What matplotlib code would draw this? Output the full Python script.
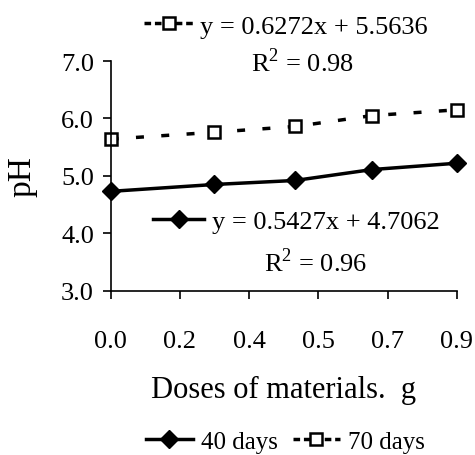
import matplotlib
matplotlib.use('Agg')
import matplotlib.pyplot as plt
from matplotlib.lines import Line2D

# 数据
doses = [0.0, 0.27, 0.48, 0.68, 0.9]
ph_40 = [4.73, 4.85, 4.92, 5.11, 5.22]
ph_70 = [5.64, 5.76, 5.86, 6.05, 6.15]
x_ticks = [0.0, 0.18, 0.36, 0.54, 0.72, 0.9]
x_tick_labels = ['0.0', '0.2', '0.4', '0.5', '0.7', '0.9']
y_ticks = [3.0, 4.0, 5.0, 6.0, 7.0]
eq_40 = 'y = 0.5427x + 4.7062'
eq_70 = 'y = 0.6272x + 5.5636'
r2_40 = 'R$^2$ = 0.96'
r2_70 = 'R$^2$ = 0.98'

plt.rcParams['font.family'] = ['Liberation Serif', 'DejaVu Serif']
plt.rcParams['mathtext.fontset'] = 'custom'
plt.rcParams['mathtext.rm'] = 'Liberation Serif'

fig = plt.figure(figsize=(4.75, 4.56), dpi=100)
ax = fig.add_axes([0.233, 0.3603, 0.7285, 0.5037])

style_40 = dict(color='black', lw=2.5, marker='D', markersize=9,
                markerfacecolor='black', markeredgecolor='black')
style_70 = dict(color='black', lw=2.5, ls=(0, (2.3, 5.0)), marker='s', markersize=9,
                markerfacecolor='white', markeredgecolor='black', markeredgewidth=1.8)

ax.plot(doses, ph_40, clip_on=False, **style_40)
ax.plot(doses, ph_70, clip_on=False, **style_70)

ax.set_xlim(0, 0.9)
ax.set_ylim(3, 7)
ax.set_xticks(x_ticks)
ax.set_xticklabels(x_tick_labels)
ax.set_yticks(y_ticks)
ax.set_yticklabels([f'{v:.1f}' for v in y_ticks])
for side in ['top', 'right']:
    ax.spines[side].set_visible(False)
for side in ['left', 'bottom']:
    ax.spines[side].set_linewidth(1.2)
ax.tick_params(axis='x', direction='out', length=6, width=1.2, pad=22, labelsize=19)
ax.tick_params(axis='y', direction='out', length=6, width=1.2, pad=6, labelsize=19)

ax.set_xlabel('Doses of materials.  g', fontsize=22, labelpad=17)
ax.set_ylabel('pH', fontsize=24, labelpad=17)

# 图例用的短虚线
h40 = Line2D([], [], **style_40)
h70 = Line2D([], [], **{**style_70, 'ls': (0, (1.9, 1.1))})

# 趋势线方程
fig.legend([h70], [eq_70], loc='center', bbox_to_anchor=(0.602, 0.941),
           frameon=False, fontsize=19, handlelength=1.9, handletextpad=0.2,
           borderpad=0, borderaxespad=0)
fig.text(0.636, 0.862, r2_70, fontsize=19, ha='center', va='center')
fig.legend([h40], [eq_40], loc='center', bbox_to_anchor=(0.624, 0.513),
           frameon=False, fontsize=19, handlelength=1.9, handletextpad=0.3,
           borderpad=0, borderaxespad=0)
fig.text(0.665, 0.425, r2_40, fontsize=19, ha='center', va='center')

fig.legend([h40, h70], ['40 days', '70 days'], loc='center', bbox_to_anchor=(0.6, 0.029),
           ncol=2, frameon=False, fontsize=18, handlelength=1.9, handletextpad=0.3,
           columnspacing=0.6, borderpad=0, borderaxespad=0)

fig.savefig('out.png', dpi=100)
